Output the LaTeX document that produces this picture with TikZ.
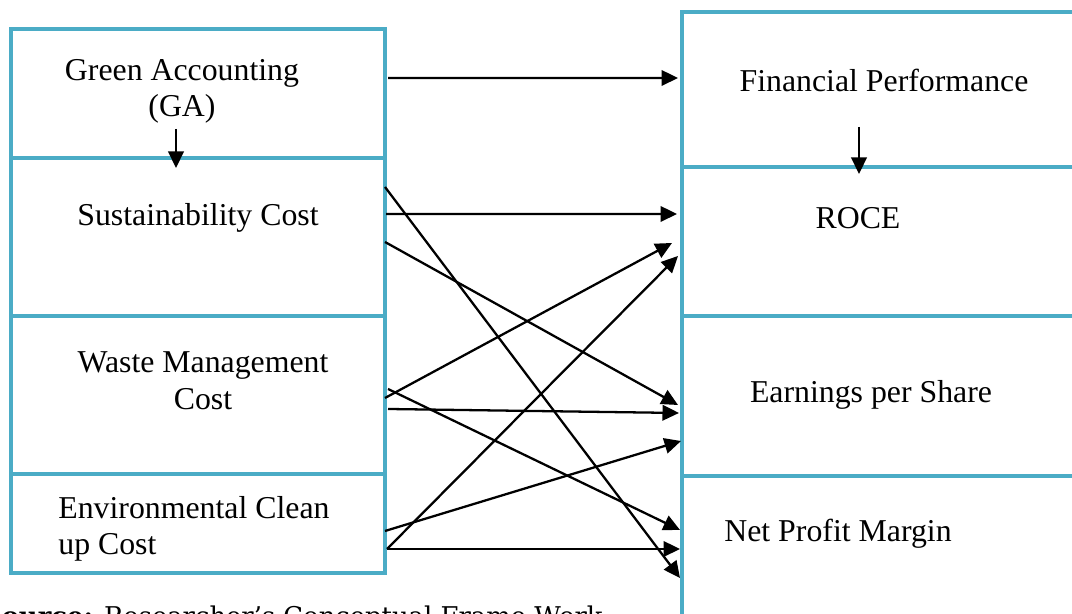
\documentclass[tikz,border=0pt]{standalone}
\usepackage{fontspec}
\setmainfont{Liberation Serif}
\newfontfamily\srcfont{DejaVu Serif}
\usetikzlibrary{arrows.meta}
\definecolor{boxblue}{RGB}{75,172,198}

\begin{document}
\begin{tikzpicture}[
    cell/.style={rectangle, draw=boxblue, line width=2.8pt, inner sep=0pt, outer sep=0pt},
    lbl/.style={font=\fontsize{18.1}{20.8}\selectfont, inner sep=0pt, align=center},
    arr/.style={line width=1.3pt, -{Triangle[length=0.33cm, width=0.31cm]}}
  ]
  \useasboundingbox (0,0) rectangle (21.44,12.28);
  \clip (0,0) rectangle (21.44,12.28);

  % left column
  \node[cell, minimum width=7.48cm, minimum height=2.58cm] (ga) at (3.96,10.41) {};
  \node[cell, minimum width=7.48cm, minimum height=3.16cm] (sc) at (3.96,7.54) {};
  \node[cell, minimum width=7.48cm, minimum height=3.16cm] (wm) at (3.96,4.38) {};
  \node[cell, minimum width=7.48cm, minimum height=1.98cm] (ec) at (3.96,1.81) {};

  % right column, runs off the page on the right and at the bottom
  \node[cell, minimum width=8.36cm, minimum height=3.10cm] (fp) at (17.82,10.49) {};
  \node[cell, minimum width=8.36cm, minimum height=2.98cm] (roce) at (17.82,7.45) {};
  \node[cell, minimum width=8.36cm, minimum height=3.20cm] (eps) at (17.82,4.36) {};
  \node[cell, minimum width=8.36cm, minimum height=3.48cm] (npm) at (17.82,1.02) {};

  \node[lbl] (ga-t) at (3.64,10.45) {Green Accounting\\(GA)};
  \node[lbl] (sc-t) at (3.96,7.92) {Sustainability Cost};
  \node[lbl] (wm-t) at (4.06,4.66) {Waste Management\\Cost};
  \node[lbl, anchor=west, align=left] (ec-t) at (1.16,1.70) {Environmental Clean\\up Cost};
  \node[lbl] (fp-t) at (17.68,10.68) {Financial Performance};
  \node[lbl] (roce-t) at (17.16,7.92) {ROCE};
  \node[lbl] (eps-t) at (17.42,4.38) {Earnings per Share};
  \node[lbl, anchor=west] (npm-t) at (14.48,1.60) {Net Profit Margin};

  % downward links inside each column
  \draw[arr] ([xshift=-0.44cm, yshift=0.58cm]ga.south) -- ([xshift=-0.44cm, yshift=-0.2cm]sc.north);
  \draw[arr] ([xshift=-0.64cm, yshift=0.8cm]fp.south) -- ([xshift=-0.64cm, yshift=-0.14cm]roce.north);

  % links across
  \draw[arr] ([xshift=0.06cm, yshift=0.31cm]ga.east) -- ([xshift=-0.08cm, yshift=0.23cm]fp.west);
  \draw[arr] ([xshift=0.02cm, yshift=0.46cm]sc.east) -- ([xshift=-0.1cm, yshift=0.55cm]roce.west);
  \draw[arr] ([yshift=1.0cm]sc.east) -- ([xshift=-0.04cm, yshift=-0.3cm]npm.west);
  \draw[arr] ([yshift=-0.1cm]sc.east) -- ([xshift=-0.08cm, yshift=-0.18cm]eps.west);
  \draw[arr] ([yshift=-0.06cm]wm.east) -- ([xshift=-0.2cm, yshift=-0.03cm]roce.west);
  \draw[arr] ([xshift=0.06cm, yshift=0.12cm]wm.east) -- ([xshift=-0.04cm, yshift=0.66cm]npm.west);
  \draw[arr] ([xshift=0.06cm, yshift=-0.28cm]wm.east) -- ([xshift=-0.06cm, yshift=-0.34cm]eps.west);
  \draw[arr] ([xshift=0.04cm, yshift=-0.51cm]ec.east) -- ([xshift=-0.08cm, yshift=-0.29cm]roce.west);
  \draw[arr] ([yshift=-0.15cm]ec.east) -- ([xshift=-0.02cm, yshift=-0.9cm]eps.west);
  \draw[arr] ([xshift=0.04cm, yshift=-0.51cm]ec.east) -- ([xshift=-0.04cm, yshift=0.28cm]npm.west);

  \node[font=\srcfont\fontsize{14.7}{17}\selectfont, anchor=base east, inner sep=0pt] (src) at (12.06,-0.24) {\textbf{Source:} Researcher’s Conceptual Frame Work};
\end{tikzpicture}
\end{document}
